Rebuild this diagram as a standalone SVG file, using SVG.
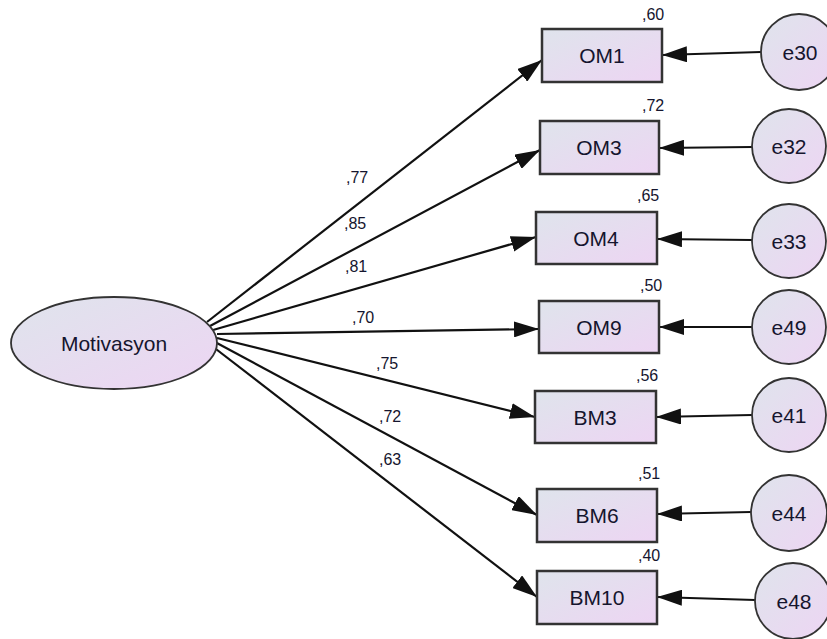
<svg xmlns="http://www.w3.org/2000/svg" width="827" height="639" viewBox="0 0 827 639">
<defs>
<linearGradient id="g" x1="0" y1="0" x2="1" y2="1">
<stop offset="0" stop-color="#dfe4ec"/>
<stop offset="1" stop-color="#edd5f3"/>
</linearGradient>
<marker id="ah" markerUnits="userSpaceOnUse" markerWidth="26" markerHeight="16" refX="25" refY="8" orient="auto">
<path d="M0,0 L25,8 L0,16 z" fill="#111"/>
</marker>
<style>
.box{fill:url(#g);stroke:#333;stroke-width:2.5}
.circ{fill:url(#g);stroke:#333;stroke-width:1.8}
.lbl{font-family:"Liberation Sans",Arial,sans-serif;font-size:21px;fill:#15152e;text-anchor:middle}
.num{font-family:"Liberation Sans",Arial,sans-serif;font-size:16px;fill:#15152e}
.edge{stroke:#111;stroke-width:2.2;fill:none;marker-end:url(#ah)}
</style>
</defs>
<rect width="827" height="639" fill="#fff"/>
<g id="connectors">
<line class="edge" x1="207" y1="322" x2="542" y2="60"/>
<line class="edge" x1="210" y1="326" x2="540" y2="150"/>
<line class="edge" x1="213" y1="330" x2="536" y2="237"/>
<line class="edge" x1="217" y1="334" x2="539" y2="329"/>
<line class="edge" x1="217" y1="338" x2="535" y2="417"/>
<line class="edge" x1="215" y1="342" x2="537" y2="515"/>
<line class="edge" x1="212" y1="346" x2="537" y2="597"/>
<line class="edge" x1="761" y1="52" x2="662" y2="55"/>
<line class="edge" x1="752" y1="147" x2="659" y2="148"/>
<line class="edge" x1="752" y1="240" x2="657" y2="239"/>
<line class="edge" x1="752" y1="327" x2="659" y2="327"/>
<line class="edge" x1="752" y1="415" x2="656" y2="417"/>
<line class="edge" x1="751" y1="512" x2="657" y2="514"/>
<line class="edge" x1="755" y1="600" x2="657" y2="597"/>
<text class="num" x="346" y="183">,77</text>
<text class="num" x="344" y="229">,85</text>
<text class="num" x="345" y="272">,81</text>
<text class="num" x="352" y="323">,70</text>
<text class="num" x="376" y="369">,75</text>
<text class="num" x="379" y="422">,72</text>
<text class="num" x="379" y="465">,63</text>
</g>
<g id="Motivasyon">
<ellipse class="circ" cx="114" cy="343" rx="103" ry="46"/>
<text class="lbl" x="114" y="351">Motivasyon</text>
</g>
<g id="OM1"><rect class="box" x="542" y="29" width="120" height="53"/><text class="lbl" x="602" y="63">OM1</text><text class="num" x="642" y="20">,60</text></g>
<g id="OM3"><rect class="box" x="540" y="121" width="119" height="53"/><text class="lbl" x="599" y="155">OM3</text><text class="num" x="642" y="111">,72</text></g>
<g id="OM4"><rect class="box" x="536" y="212" width="121" height="52"/><text class="lbl" x="596" y="246">OM4</text><text class="num" x="637" y="201">,65</text></g>
<g id="OM9"><rect class="box" x="539" y="301" width="120" height="52"/><text class="lbl" x="599" y="335">OM9</text><text class="num" x="640" y="291">,50</text></g>
<g id="BM3"><rect class="box" x="535" y="391" width="121" height="52"/><text class="lbl" x="595" y="425">BM3</text><text class="num" x="636" y="381">,56</text></g>
<g id="BM6"><rect class="box" x="537" y="489" width="120" height="53"/><text class="lbl" x="597" y="523">BM6</text><text class="num" x="638" y="479">,51</text></g>
<g id="BM10"><rect class="box" x="537" y="571" width="120" height="53"/><text class="lbl" x="597" y="605">BM10</text><text class="num" x="638" y="561">,40</text></g>
<g id="e30"><circle class="circ" cx="799" cy="52" r="38"/><text class="lbl" x="800" y="60">e30</text></g>
<g id="e32"><circle class="circ" cx="789" cy="146" r="37"/><text class="lbl" x="789" y="154">e32</text></g>
<g id="e33"><circle class="circ" cx="789" cy="241" r="37"/><text class="lbl" x="789" y="249">e33</text></g>
<g id="e49"><circle class="circ" cx="789" cy="327" r="37"/><text class="lbl" x="789" y="335">e49</text></g>
<g id="e41"><circle class="circ" cx="789" cy="415" r="37"/><text class="lbl" x="789" y="423">e41</text></g>
<g id="e44"><circle class="circ" cx="789" cy="513" r="38"/><text class="lbl" x="789" y="521">e44</text></g>
<g id="e48"><circle class="circ" cx="793" cy="601" r="38"/><text class="lbl" x="794" y="609">e48</text></g>
</svg>
